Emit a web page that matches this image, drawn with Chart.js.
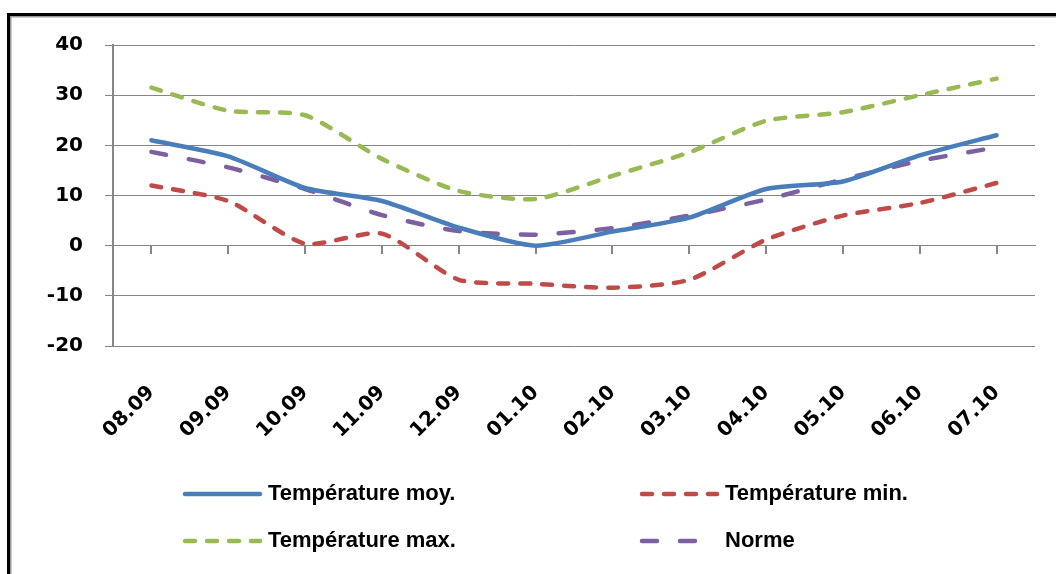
<!DOCTYPE html>
<html>
<head>
<meta charset="utf-8">
<script src="https://cdn.jsdelivr.net/npm/chart.js@4.4.0/dist/chart.umd.min.js"></script>
<style>
  html, body { margin: 0; padding: 0; background: #fff; }
</style>
</head>
<body>
<canvas id="myChart" width="1056" height="574"></canvas>
<script>
const months = ["08.09", "09.09", "10.09", "11.09", "12.09", "01.10", "02.10", "03.10", "04.10", "05.10", "06.10", "07.10"];
const tempMoy = [21, 17.8, 11.5, 8.9, 3.6, 0, 2.8, 5.6, 11.3, 12.8, 18, 22];
const tempMin = [12, 8.9, 0.4, 2.4, -6.8, -7.6, -8.4, -6.8, 1.2, 6, 8.5, 12.5];
const tempMax = [31.5, 26.9, 26, 17.3, 10.9, 9.3, 13.9, 18.6, 24.9, 26.6, 30, 33.3];
const norme = [18.7, 15.6, 11.3, 6.1, 2.9, 2.2, 3.5, 6, 9.2, 13.2, 16.9, 19.6];
const yTicks = [-20, -10, 0, 10, 20, 30, 40];

const tickFont = { family: "'DejaVu Sans', Verdana, sans-serif", size: 20, weight: "bold" };
const legendFont = "bold 22px 'Liberation Sans Narrow', 'Liberation Sans', Arial, sans-serif";

// white page + the double frame of the original picture
const framePlugin = {
  id: "frame",
  beforeDraw(chart) {
    const c = chart.ctx;
    c.save();
    c.fillStyle = "#fff";
    c.fillRect(0, 0, chart.width, chart.height);
    c.restore();
  },
  afterDraw(chart) {
    const c = chart.ctx;
    c.save();
    c.fillStyle = "#000";
    c.fillRect(7, 13, chart.width, 3);
    c.fillRect(7, 13, 3, chart.height);
    c.fillStyle = "#9a9a9a";
    c.fillRect(10, 16, chart.width, 1.5);
    c.fillRect(10, 16, 1.5, chart.height);
    c.restore();
  }
};

// Excel style legend, 2 columns x 2 rows
const gridLegend = {
  id: "gridLegend",
  afterDraw(chart) {
    const c = chart.ctx;
    const cols = [183, 640];
    const rows = [494, 541];
    chart.data.datasets.forEach((ds, i) => {
      const x = cols[i % 2];
      const y = rows[Math.floor(i / 2)];
      c.save();
      c.strokeStyle = ds.borderColor;
      c.lineWidth = ds.borderWidth;
      c.lineCap = ds.borderCapStyle || "butt";
      c.setLineDash(ds.borderDash || []);
      c.beginPath();
      c.moveTo(x + 2, y);
      c.lineTo(x + 77, y);
      c.stroke();
      c.setLineDash([]);
      c.fillStyle = "#000";
      c.font = legendFont;
      c.textBaseline = "middle";
      c.fillText(ds.label, x + 85, y);
      c.restore();
    });
  }
};

const ctx = document.getElementById("myChart").getContext("2d");
const myChart = new Chart(ctx, {
  type: "line",
  plugins: [framePlugin, gridLegend],
  data: {
    labels: months,
    datasets: [
      {
        label: "Température moy.",
        data: tempMoy,
        borderColor: "#4A7EBB",
        borderWidth: 4.5,
        borderCapStyle: "round"
      },
      {
        label: "Température min.",
        data: tempMin,
        borderColor: "#BE4B48",
        borderWidth: 4.5,
        borderCapStyle: "round",
        borderDash: [10, 12]
      },
      {
        label: "Température max.",
        data: tempMax,
        borderColor: "#98B954",
        borderWidth: 4.5,
        borderCapStyle: "round",
        borderDash: [10, 12]
      },
      {
        label: "Norme",
        data: norme,
        borderColor: "#7D60A0",
        borderWidth: 4.5,
        borderCapStyle: "round",
        borderDash: [15, 23]
      }
    ]
  },
  options: {
    responsive: false,
    animation: false,
    layout: { padding: { top: 45, right: 21, left: 0, bottom: 0 } },
    elements: {
      point: { radius: 0, hoverRadius: 0 },
      line: { tension: 0.22, fill: false }
    },
    plugins: {
      legend: { display: false },
      tooltip: { enabled: false }
    },
    scales: {
      y: {
        min: -20,
        max: 40,
        afterBuildTicks(scale) {
          scale.ticks = yTicks.map(v => ({ value: v }));
        },
        afterFit(scale) { scale.width = 113; },
        ticks: { color: "#000", font: tickFont, padding: 22 },
        grid: { color: "#868686", lineWidth: 1, tickLength: 8 },
        border: { color: "#868686", width: 2 }
      },
      x: {
        position: "bottom",
        offset: true,
        afterFit(scale) { scale.height = 228; },
        grid: { display: false },
        border: { display: false },
        ticks: { color: "#000", font: tickFont, minRotation: 45, maxRotation: 45, padding: 27, autoSkip: false }
      },
      x0: {
        type: "category",
        position: { y: 0 },
        offset: true,
        ticks: { display: false },
        grid: { drawOnChartArea: false, drawTicks: true, tickLength: 8, color: "#868686", lineWidth: 2 },
        border: { color: "#868686", width: 1 }
      }
    }
  }
});
</script>
</body>
</html>
